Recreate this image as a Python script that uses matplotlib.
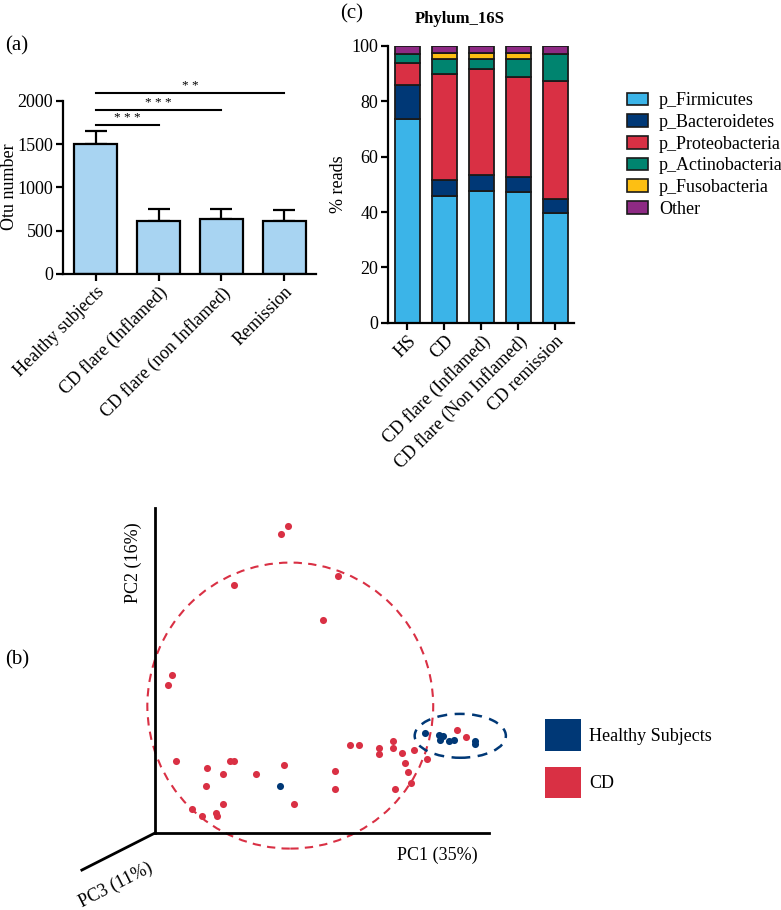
import matplotlib
matplotlib.use('Agg')
import matplotlib.pyplot as plt
from matplotlib.patches import Patch, Ellipse
import numpy as np

plt.rcParams['font.family'] = ['Liberation Serif', 'DejaVu Serif']
plt.rcParams['font.size'] = 13

#---- panel (a) data: otu numbers
a_groups = ['Healthy subjects', 'CD flare (Inflamed)', 'CD flare (non Inflamed)', 'Remission']
a_means = [1505, 612, 632, 615]
a_err = [145, 140, 118, 120]
a_sig = [(0, 1, 1716, '* * *'), (0, 2, 1889, '* * *'), (0, 3, 2089, '* *')]

#---- panel (c) data: % reads by phylum
c_groups = ['HS', 'CD', 'CD flare (Inflamed)', 'CD flare (Non Inflamed)', 'CD remission']
phyla = ['p_Firmicutes', 'p_Bacteroidetes', 'p_Proteobacteria', 'p_Actinobacteria', 'p_Fusobacteria', 'Other']
firmicutes = [73.5, 45.7, 47.7, 47.1, 39.6]
bacteroidetes = [12.5, 5.7, 5.7, 5.4, 5.0]
proteobacteria = [7.7, 38.5, 38.4, 36.3, 42.9]
actinobacteria = [3.4, 5.5, 3.6, 6.6, 9.5]
fusobacteria = [0.0, 2.1, 2.1, 2.1, 0.0]
other = [2.9, 2.5, 2.5, 2.5, 3.0]
phyla_colors = ['#3bb4e8', '#003876', '#d93044', '#00846f', '#fdbf13', '#8e2a84']

#---- panel (b) data: PCoA scores (PC1, PC2)
cd_pc1 = [39.9, 37.6, 54.7, 23.7, 50.3, 5.0, 3.9, 6.2, 15.5, 15.3, 20.4, 22.5, 23.7, 30.3,
          38.5, 41.6, 11.2, 14.0, 18.4, 18.7, 20.3, 53.9, 53.9, 58.3, 61.0, 67.2, 67.2, 71.2,
          71.3, 73.9, 77.4, 74.9, 75.7, 76.6, 71.8, 81.5, 90.3, 93.2]
cd_pc2 = [94.5, 92.0, 79.0, 76.2, 65.4, 48.7, 45.6, 22.3, 20.1, 14.4, 18.2, 22.2, 22.3, 18.2,
          20.9, 9.0, 7.5, 5.1, 6.3, 5.1, 8.8, 19.2, 13.5, 27.2, 27.1, 26.2, 24.3, 28.2,
          26.3, 24.6, 25.6, 21.5, 18.7, 15.5, 13.5, 22.8, 31.8, 29.6]
hs_pc1 = [37.3, 80.7, 84.9, 86.3, 85.4, 87.9, 89.5, 95.8, 95.7]
hs_pc2 = [14.6, 30.8, 30.3, 29.9, 28.6, 28.3, 28.7, 28.4, 27.4]
navy = '#003876'
red = '#d93044'

W, H = 781, 910
fig = plt.figure(figsize=(W/100, H/100), dpi=100)

def px_axes(x0, y0, x1, y1):
    #axes from pixel box (left, top, right, bottom)
    return fig.add_axes([x0/W, 1-y1/H, (x1-x0)/W, (y1-y0)/H])

########## (a)
axa = px_axes(63, 100.7, 315.7, 274)
xa = np.arange(len(a_groups))
axa.bar(xa, a_means, width=0.68, color='#a8d4f2', edgecolor='black', linewidth=1.6, zorder=2)
axa.errorbar(xa, a_means, yerr=[np.zeros(len(a_err)), a_err], fmt='none', ecolor='black',
             elinewidth=1.6, capsize=8, capthick=1.6, zorder=1)
axa.set_xlim(-0.52, 3.5)
axa.set_ylim(0, 2000)
axa.set_yticks([0, 500, 1000, 1500, 2000])
axa.set_xticks(xa)
axa.set_xticklabels(a_groups, rotation=45, ha='right', rotation_mode='anchor')
for s in ['top', 'right']:
    axa.spines[s].set_visible(False)
for s in ['left', 'bottom']:
    axa.spines[s].set_linewidth(1.6)
axa.tick_params(width=1.6, length=5, labelsize=13, pad=2)
for i, j, y, st in a_sig:
    axa.plot([xa[i], xa[j]], [y, y], color='black', lw=1.5, clip_on=False)
    axa.text((xa[i]+xa[j])/2, y+10, st, ha='center', va='bottom', fontsize=9.5, clip_on=False)
fig.text(10/W, 1-187/H, 'Otu number', rotation=90, ha='center', va='center', fontsize=13)
fig.text(5/W, 1-46/H, '(a)', fontsize=15, va='center')

########## (c)
axc = px_axes(388, 46, 574, 322.7)
xc = np.arange(len(c_groups))
series = [firmicutes, bacteroidetes, proteobacteria, actinobacteria, fusobacteria, other]
bottom = np.zeros(len(c_groups))
for vals, col, name in zip(series, phyla_colors, phyla):
    axc.bar(xc, vals, bottom=bottom, width=0.68, color=col, edgecolor='#1a1a1a', linewidth=1.3, label=name)
    bottom = bottom + np.array(vals)
axc.set_xlim(-0.52, 4.5)
axc.set_ylim(0, 100)
axc.set_yticks([0, 20, 40, 60, 80, 100])
axc.set_xticks(xc)
axc.set_xticklabels(c_groups, rotation=45, ha='right', rotation_mode='anchor')
axc.set_ylabel('% reads', fontsize=13, labelpad=3)
for s in ['top', 'right']:
    axc.spines[s].set_visible(False)
for s in ['left', 'bottom']:
    axc.spines[s].set_linewidth(1.6)
axc.tick_params(width=1.6, length=5, labelsize=13, pad=2)
fig.text(460/W, 1-19/H, 'Phylum_16S', fontsize=12, fontweight='bold', ha='center', va='center')
handles = [Patch(facecolor=c, edgecolor='#1a1a1a', linewidth=1.2) for c in phyla_colors]
fig.legend(handles, phyla, loc='upper left', bbox_to_anchor=(611/W, 1-76/H), frameon=False,
           fontsize=13, handlelength=1.15, handleheight=0.7, handletextpad=0.6, labelspacing=0.26)
fig.text(340/W, 1-14/H, '(c)', fontsize=15, va='center')

########## (b)
axb = px_axes(155, 508, 489, 833)
axb.set_xlim(0, 100)
axb.set_ylim(0, 100)
axb.axis('off')
axb.plot([0, 0], [0, 100], color='black', lw=2, clip_on=False)
axb.plot([0, 100], [0, 0], color='black', lw=2, clip_on=False)
axb.plot([0, -21.9], [0, -11.4], color='black', lw=2, clip_on=False)
axb.add_patch(Ellipse((40.5, 39.2), 85.6, 88.0, fill=False, edgecolor=red, lw=1.5,
                      linestyle=(0, (4, 3)), clip_on=False))
axb.add_patch(Ellipse((91.4, 29.9), 27.3, 13.5, fill=False, edgecolor=navy, lw=1.8,
                      linestyle=(0, (4, 3)), clip_on=False))
axb.scatter(cd_pc1, cd_pc2, s=26, color=red, linewidths=0, clip_on=False, zorder=3)
axb.scatter(hs_pc1, hs_pc2, s=26, color=navy, linewidths=0, clip_on=False, zorder=4)
fig.text(133/W, 1-563/H, 'PC2 (16%)', rotation=90, ha='center', va='center', fontsize=13)
fig.text(437/W, 1-855/H, 'PC1 (35%)', ha='center', va='center', fontsize=13)
fig.text(116/W, 1-885/H, 'PC3 (11%)', rotation=27, ha='center', va='center', fontsize=13)
fig.text(5/W, 1-660/H, '(b)', fontsize=15, va='center')
bh = [Patch(facecolor=navy, edgecolor='none'), Patch(facecolor=red, edgecolor='none')]
fig.legend(bh, ['Healthy Subjects', 'CD'], loc='upper left', bbox_to_anchor=(529/W, 1-703/H),
           frameon=False, fontsize=13, handlelength=1.98, handleheight=2.29, handletextpad=0.47,
           labelspacing=0.9)

fig.savefig('out.png', dpi=100)
